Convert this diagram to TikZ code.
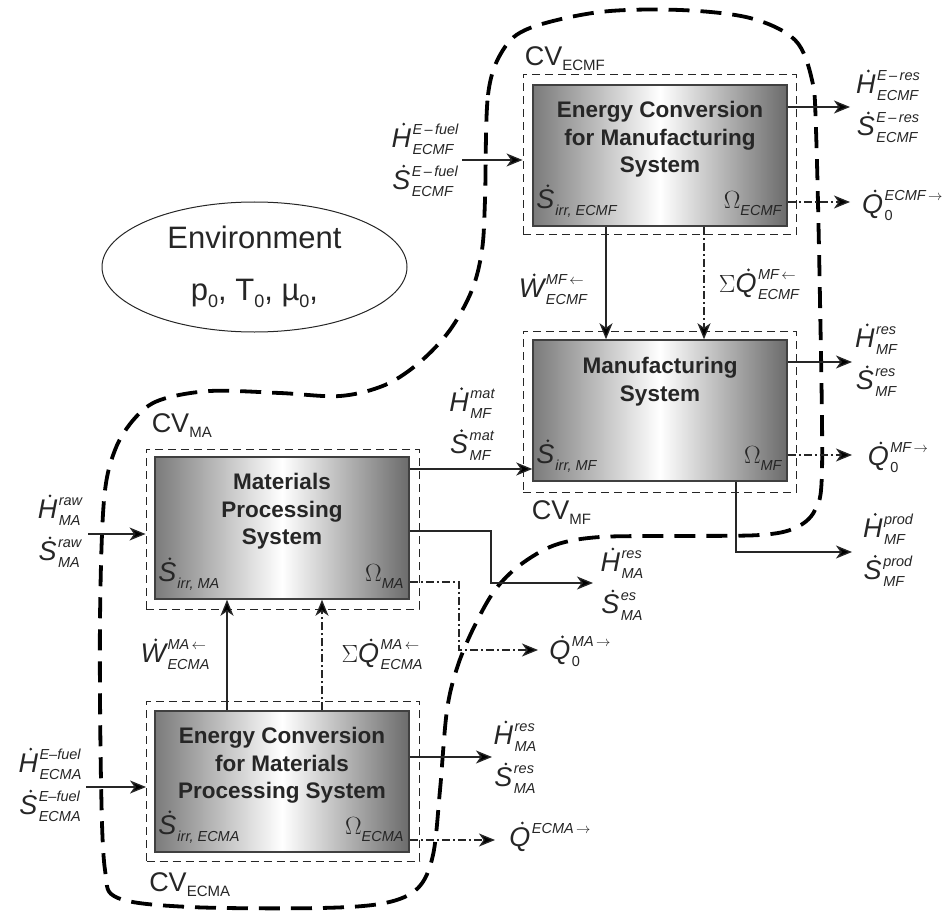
\documentclass[tikz,border=0pt]{standalone}
\usepackage{fontspec}
\setmainfont{Liberation Sans}
\usetikzlibrary{arrows.meta,shapes.geometric}
\newsavebox\supbx
\newsavebox\subbx
\newcommand\scr[1]{\mbox{\fontsize{14.5}{17}\selectfont\itshape #1}}
\newcommand\dotmark{\tikz\fill[black!85] (0,0) circle (1.5pt);}
\newcommand\dotl[1]{\ooalign{\itshape #1\cr\hidewidth\kern5pt\raisebox{21.5pt}{\dotmark}\hidewidth\cr}}
\newcommand\scripts[2]{\begingroup\sbox\supbx{\scr{#1}}\sbox\subbx{\scr{#2}}%
  \rlap{\raisebox{13pt}{\usebox\supbx}}\raisebox{-7pt}{\usebox\subbx}%
  \ifdim\wd\supbx>\wd\subbx\kern\dimexpr\wd\supbx-\wd\subbx\relax\fi\endgroup}
\newcommand\fx[4][]{{\fontsize{27}{27}\selectfont #1\dotl{#2}\kern1.5pt\scripts{#3}{#4}}}
\newcommand\fxsub[2]{{\fontsize{27}{27}\selectfont\dotl{#1}\kern1pt\raisebox{-6.5pt}{\scr{#2}}}}
\newcommand\omg[1]{{\fontsize{26}{26}\selectfont$\Omega$\raisebox{-6.5pt}{\scr{#1}}}}
\newcommand\cvl[1]{{\fontsize{27}{27}\selectfont CV\raisebox{-5pt}{\fontsize{15}{15}\selectfont #1}}}
\newcommand\envsub[1]{\raisebox{-7pt}{\fontsize{18}{18}\selectfont #1}}
\tikzset{
  sysbox/.style={draw=black!75, line width=1.5pt, left color=black!52, right color=black!58, middle color=white,
    minimum width=254pt, minimum height=141pt, inner sep=0pt},
  cvbox/.style={draw=black!85, line width=0.9pt, dash pattern=on 8pt off 5pt, minimum width=273pt, minimum height=160pt, inner sep=0pt},
  title/.style={anchor=north, align=center, font=\fontsize{22.5}{27.5}\selectfont\bfseries, inner sep=0pt, text=black!85},
  lab/.style={inner sep=0pt, text=black!85},
  pair/.style={lab, align=center, font=\fontsize{27}{42}\selectfont},
  flow/.style={line width=1.3pt, draw=black!85, -{Stealth[length=16pt,width=13pt,inset=4.5pt]}},
  heat/.style={flow, dash pattern=on 8pt off 3pt on 2pt off 3pt},
  bigcv/.style={line width=3.8pt, dash pattern=on 21pt off 11pt}
}
\begin{document}
\begin{tikzpicture}[x=1pt,y=-1pt]
\useasboundingbox (0,0) rectangle (950,912);

% large control-volume boundary
\draw[bigcv] plot[smooth cycle, tension=0.55] coordinates {
 (485,200) (488,95) (503,50) (530,28) (600,12) (680,10) (750,18) (795,40) (812,80) (816,130)
 (820,300) (822,470) (815,510) (795,528) (760,535) (680,536) (600,537) (555,545) (520,565)
 (495,590) (475,625) (458,665) (447,710) (440,790) (433,855) (418,888) (385,903) (320,908)
 (190,907) (118,898) (105,870) (101,780) (100,620) (104,500) (115,450) (135,418) (160,400)
 (210,391) (280,393) (340,396) (385,385) (420,362) (450,330) (472,290) (482,250)};

% environment
\node[draw=black!85, line width=1pt, ellipse, minimum width=305pt, minimum height=130pt, align=center,
  font=\fontsize{31}{52}\selectfont, text=black!85] (env) at (254.5,267)
  {Environment\\p\envsub{0}, T\envsub{0}, \textmu\envsub{0},};

% control volumes
\node[cvbox] (cvecmf) at (659.5,154.5) {};
\node[cvbox, minimum height=161pt] (cvmf) at (659.5,411.5) {};
\node[cvbox] (cvma) at (282.5,529) {};
\node[cvbox] (cvecma) at (283,781) {};

% systems
\node[sysbox] (ecmf) at (660,155.5) {};
\node[sysbox] (mf) at (660,410.5) {};
\node[sysbox, minimum height=142pt] (ma) at (282,528) {};
\node[sysbox] (ecma) at (282,781.5) {};

\node[title] (tecmf) at ([yshift=-17pt]ecmf.north) {Energy Conversion\\for Manufacturing\\System};
\node[title] (tmf) at ([yshift=-18pt]mf.north) {Manufacturing\\System};
\node[title] (tma) at ([yshift=-17pt]ma.north) {Materials\\Processing\\System};
\node[title] (tecma) at ([yshift=-17pt]ecma.north) {Energy Conversion\\for Materials\\Processing System};

\node[lab, anchor=base west] (secmf) at ([xshift=4pt,yshift=18pt]ecmf.south west) {\fxsub{S}{irr, ECMF}};
\node[lab, anchor=base east] (oecmf) at ([xshift=-6pt,yshift=18pt]ecmf.south east) {\omg{ECMF}};
\node[lab, anchor=base west] (smf) at ([xshift=4pt,yshift=18pt]mf.south west) {\fxsub{S}{irr, MF}};
\node[lab, anchor=base east] (omf) at ([xshift=-6pt,yshift=18pt]mf.south east) {\omg{MF}};
\node[lab, anchor=base west] (sma) at ([xshift=4pt,yshift=18pt]ma.south west) {\fxsub{S}{irr, MA}};
\node[lab, anchor=base east] (oma) at ([xshift=-6pt,yshift=18pt]ma.south east) {\omg{MA}};
\node[lab, anchor=base west] (secma) at ([xshift=4pt,yshift=18pt]ecma.south west) {\fxsub{S}{irr, ECMA}};
\node[lab, anchor=base east] (oecma) at ([xshift=-6pt,yshift=18pt]ecma.south east) {\omg{ECMA}};

% CV labels
\node[lab, anchor=base west] (lcvecmf) at ([xshift=2pt,yshift=9pt]cvecmf.north west) {\cvl{ECMF}};
\node[lab, anchor=base west] (lcvmf) at ([xshift=9pt,yshift=-27pt]cvmf.south west) {\cvl{MF}};
\node[lab, anchor=base west] (lcvma) at ([xshift=6pt,yshift=16pt]cvma.north west) {\cvl{MA}};
\node[lab, anchor=base west] (lcvecma) at ([xshift=3pt,yshift=-30pt]cvecma.south west) {\cvl{ECMA}};

% coordinates for free ends and bends
\coordinate (ecmfin) at (462,160);
\coordinate (ecmfres) at (850,107);
\coordinate (ecmfq) at (850,202);
\coordinate (wx) at (606,280);
\coordinate (qx) at (704,280);
\coordinate (mfres) at (852,362);
\coordinate (mfq) at (852,455);
\coordinate (px) at (736,552);
\coordinate (mfprod) at (852,552);
\coordinate (mat) at (470,469);
\coordinate (mainp) at (88,534);
\coordinate (mares1) at (491,531);
\coordinate (mares2) at (593,583);
\coordinate (maq1) at (459,582);
\coordinate (maq2) at (538,650);
\coordinate (wx2) at (227,650);
\coordinate (qx2) at (322,650);
\coordinate (ecmain) at (86,787);
\coordinate (ecmares) at (492,757);
\coordinate (ecmaq) at (495,840);

% connectors
\draw[flow] (ecmfin) -- (ecmfin -| cvecmf.west);
\draw[flow] (ecmfres -| ecmf.east) -- (ecmfres);
\draw[heat] (ecmfq -| ecmf.east) -- (ecmfq);
\draw[flow] (ecmf.south -| wx) -- (mf.north -| wx);
\draw[heat] (ecmf.south -| qx) -- (mf.north -| qx);
\draw[flow] (mfres -| mf.east) -- (mfres);
\draw[heat] (mfq -| mf.east) -- (mfq);
\draw[flow] (mf.south -| px) -- (px) -- (mfprod);
\draw[flow] (mat -| ma.east) -- (mat -| mf.west);
\draw[flow] (mainp) -- (mainp -| cvma.west);
\draw[flow] (mares1 -| ma.east) -- (mares1) -- (mares1 |- mares2) -- (mares2);
\draw[heat] (maq1 -| ma.east) -- (maq1) -- (maq1 |- maq2) -- (maq2);
\draw[flow] (ecma.north -| wx2) -- (ma.south -| wx2);
\draw[heat] (ecma.north -| qx2) -- (ma.south -| qx2);
\draw[flow] (ecmain) -- (ecmain -| cvecma.west);
\draw[flow] (ecmares -| ecma.east) -- (ecmares);
\draw[heat] (ecmaq -| ecma.east) -- (ecmaq);

% flow labels
\node[pair] (l1) at (425,160) {\fx{H}{E\,–\,fuel}{ECMF}\\\fx{S}{E\,–\,fuel}{ECMF}};
\node[pair] (l2) at (888,107) {\fx{H}{E\,–\,res}{ECMF}\\\fx{S}{E\,–\,res}{ECMF}};
\node[lab, anchor=west] (lq1) at (862,206) {\fx{Q}{ECMF\,$\rightarrow$}{\upshape 0}};
\node[lab] (lw1) at (553,290) {\fx{W}{MF\,$\leftarrow$}{ECMF}};
\node[lab] (lsq1) at (759,285) {\fx[$\Sigma$]{Q}{MF\,$\leftarrow$}{ECMF}};
\node[pair] (l3) at (876,362) {\fx{H}{res}{MF}\\\fx{S}{res}{MF}};
\node[lab] (lq2) at (898,458) {\fx{Q}{MF\,$\rightarrow$}{\upshape 0}};
\node[pair] (l4) at (888,550) {\fx{H}{prod}{MF}\\\fx{S}{prod}{MF}};
\node[pair] (l5) at (472,425) {\fx{H}{mat}{MF}\\\fx{S}{mat}{MF}};
\node[pair] (l6) at (60,533) {\fx{H}{raw}{MA}\\\fx{S}{raw}{MA}};
\node[pair] (l7) at (622,586) {\fx{H}{res}{MA}\\\fx{S}{es}{MA}};
\node[lab] (lq3) at (580,652) {\fx{Q}{MA\,$\rightarrow$}{\upshape 0}};
\node[lab] (lw2) at (175,655) {\fx{W}{MA\,$\leftarrow$}{ECMA}};
\node[lab] (lsq2) at (382,655) {\fx[$\Sigma$]{Q}{MA\,$\leftarrow$}{ECMA}};
\node[pair] (l8) at (50,785) {\fx{H}{E–fuel}{ECMA}\\\fx{S}{E–fuel}{ECMA}};
\node[pair] (l9) at (515,759) {\fx{H}{res}{MA}\\\fx{S}{res}{MA}};
\node[lab] (lq4) at (550,838) {\fx{Q}{ECMA\,$\rightarrow$}{}};
\end{tikzpicture}
\end{document}
